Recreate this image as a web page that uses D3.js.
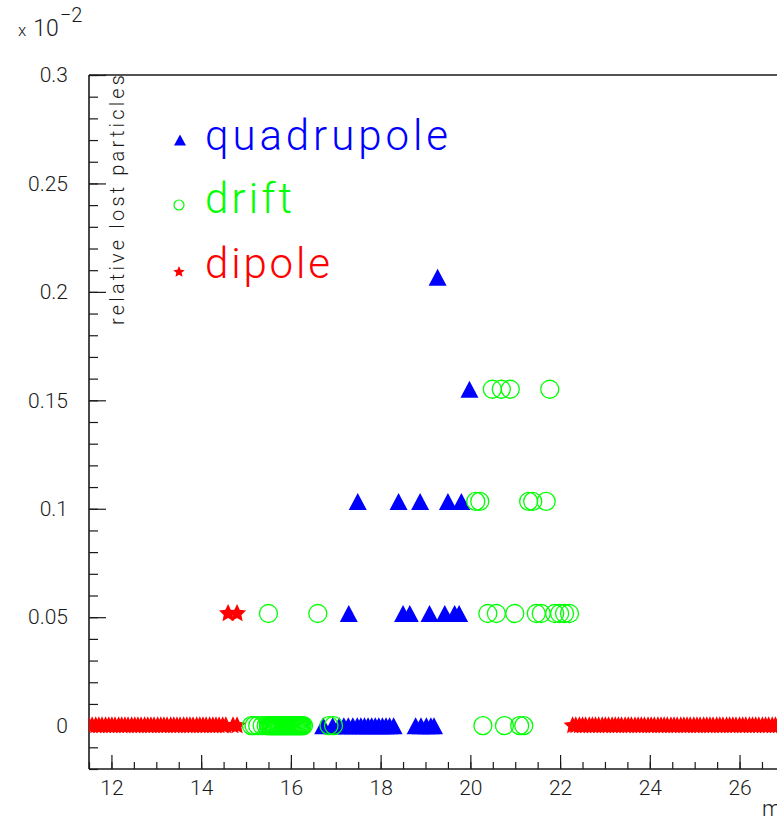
<!DOCTYPE html>
<html><head><meta charset="utf-8">
<script src="https://cdn.jsdelivr.net/npm/d3@7"></script>
<style>html,body{margin:0;padding:0;background:#fff;overflow:hidden}</style>
</head><body>
<svg id="chart" width="777" height="821"></svg>
<script>
// Loss levels (units of 1e-2) and positions along the beam line
const levels = [0, 0.0517, 0.1034, 0.1551, 0.2068];

// quadrupole losses: one x list per level index
const quadrupoleX = [
  [16.72, 16.93, 17.08, 17.18, 17.28, 17.38, 17.48, 17.56, 17.64, 17.72, 17.80, 17.88, 17.96, 18.04, 18.12, 18.20, 18.29, 18.78, 18.90, 19.02, 19.12, 19.19],
  [17.29, 18.50, 18.65, 19.09, 19.43, 19.65, 19.75],
  [17.49, 18.40, 18.88, 19.50, 19.80],
  [19.98],
  [19.27]
];

// drift losses
const driftX = [
  [15.12, 15.18, 15.26, 15.36, 15.45, 15.50, 15.525, 15.55, 15.575, 15.60, 15.625, 15.65, 15.675, 15.70, 15.725, 15.75, 15.775, 15.80, 15.825, 15.85, 15.875, 15.90, 15.925, 15.95, 15.975, 16.00, 16.025, 16.05, 16.075, 16.10, 16.125, 16.15, 16.175, 16.20, 16.225, 16.25, 16.28,
   16.85, 16.95, 20.28, 20.76, 21.10, 21.19],
  [15.50, 16.60, 20.39, 20.58, 20.99, 21.47, 21.58, 21.88, 21.99, 22.10, 22.21],
  [20.12, 20.21, 21.30, 21.39, 21.69],
  [20.49, 20.69, 20.89, 21.77],
  []
];

// dipole losses
const dipoleX = [
  [11.50, 11.57, 11.65, 11.72, 11.79, 11.87, 11.94, 12.01, 12.08, 12.16, 12.23, 12.30, 12.37, 12.45, 12.52, 12.59, 12.66, 12.74, 12.81, 12.88, 12.95, 13.03, 13.10, 13.17, 13.24, 13.32, 13.39, 13.46, 13.53, 13.61, 13.68, 13.75, 13.82, 13.90, 13.97, 14.04, 14.11, 14.19, 14.26, 14.33, 14.40, 14.48, 14.55, 14.71, 14.80,
   22.28, 22.35, 22.43, 22.50, 22.57, 22.65, 22.72, 22.79, 22.86, 22.94, 23.01, 23.08, 23.16, 23.23, 23.30, 23.37, 23.45, 23.52, 23.59, 23.67, 23.74, 23.81, 23.88, 23.96, 24.03, 24.10, 24.18, 24.25, 24.32, 24.39, 24.47, 24.54, 24.61, 24.69, 24.76, 24.83, 24.90, 24.98, 25.05, 25.12, 25.20, 25.27, 25.34, 25.41, 25.49, 25.56, 25.63, 25.71, 25.78, 25.85, 25.92, 26.00, 26.07, 26.14, 26.22, 26.29, 26.36, 26.43, 26.51, 26.58, 26.65, 26.73, 26.80, 26.87, 26.94, 27.02],
  [14.60, 14.80],
  [], [], []
];

const yTickLabels = ["0", "0.05", "0.1", "0.15", "0.2", "0.25", "0.3"];
const xTickLabels = ["12", "14", "16", "18", "20", "22", "24", "26"];
const legendNames = ["quadrupole", "drift", "dipole"];

const BLUE = "#0000ff", GREEN = "#00ff00", RED = "#ff0000", INK = "#1a1a1a";
const FONT = "Roboto, 'Liberation Sans', sans-serif";

const svg = d3.select("#chart");
const frame = {left: 89, top: 75, bottom: 769, right: 919};

const x = d3.scaleLinear().domain([11.5, 30]).range([frame.left, frame.right]);
const y = d3.scaleLinear().domain([-0.02, 0.3]).range([frame.bottom, frame.top]);

// flatten a per-level list into points
const toPoints = arr => arr.flatMap((xs, i) => xs.map(v => ({x: v, y: levels[i]})));

svg.append("defs").append("clipPath").attr("id", "plotClip")
  .append("rect").attr("x", frame.left).attr("y", frame.top)
  .attr("width", frame.right - frame.left).attr("height", frame.bottom - frame.top);

// frame
const fr = svg.append("g").attr("stroke", INK).attr("stroke-width", 1.6).attr("fill", "none");
fr.append("line").attr("x1", frame.left).attr("x2", frame.left).attr("y1", frame.top).attr("y2", frame.bottom);
fr.append("line").attr("x1", frame.left).attr("x2", frame.right).attr("y1", frame.top).attr("y2", frame.top);
fr.append("line").attr("x1", frame.left).attr("x2", frame.right).attr("y1", frame.bottom).attr("y2", frame.bottom);

// y axis: minor ticks, then major ticks with labels
svg.append("g").attr("transform", `translate(${frame.left},0)`)
  .call(d3.axisLeft(y).tickValues(d3.range(-0.02, 0.3001, 0.01)).tickSize(-9).tickFormat(""))
  .call(g => g.select(".domain").remove())
  .call(g => g.selectAll("line").attr("stroke", INK).attr("stroke-width", 1.2));

const yMajor = yTickLabels.map(Number);
svg.append("g").attr("transform", `translate(${frame.left},0)`)
  .call(d3.axisLeft(y).tickValues(yMajor).tickSize(-17).tickPadding(21)
        .tickFormat((d, i) => yTickLabels[i]))
  .call(g => g.select(".domain").remove())
  .call(g => g.selectAll("line").attr("stroke", INK).attr("stroke-width", 1.2))
  .call(g => g.selectAll("text").attr("font-family", FONT).attr("font-weight", 300)
        .attr("font-size", 21).attr("fill", INK));

// x axis
svg.append("g").attr("transform", `translate(0,${frame.bottom})`)
  .call(d3.axisBottom(x).tickValues(d3.range(11.5, 30.01, 0.5)).tickSize(-7).tickFormat(""))
  .call(g => g.select(".domain").remove())
  .call(g => g.selectAll("line").attr("stroke", INK).attr("stroke-width", 1.2));

const xMajor = xTickLabels.map(Number);
svg.append("g").attr("transform", `translate(0,${frame.bottom})`)
  .call(d3.axisBottom(x).tickValues(xMajor).tickSize(-14).tickFormat((d, i) => xTickLabels[i]))
  .call(g => g.select(".domain").remove())
  .call(g => g.selectAll("line").attr("stroke", INK).attr("stroke-width", 1.2))
  .call(g => g.selectAll("text").attr("y", 26).attr("dy", 0).attr("font-family", FONT)
        .attr("font-weight", 300).attr("font-size", 21).attr("fill", INK));
// major ticks beyond the last labelled value
svg.append("g").attr("transform", `translate(0,${frame.bottom})`)
  .call(d3.axisBottom(x).tickValues([28, 30]).tickSize(-14).tickFormat(""))
  .call(g => g.select(".domain").remove())
  .call(g => g.selectAll("line").attr("stroke", INK).attr("stroke-width", 1.2));

// exponent label
const expo = svg.append("text").attr("x", 18).attr("y", 36)
  .attr("font-family", FONT).attr("font-weight", 300).attr("fill", INK);
expo.append("tspan").attr("font-size", 17).text("x");
expo.append("tspan").attr("font-size", 23).attr("dx", 7).text("10");
expo.append("tspan").attr("font-size", 20).attr("dy", -14).attr("dx", 1).text("\u22122");

// axis titles
svg.append("text").attr("transform", `translate(124,${frame.top}) rotate(-90)`)
  .attr("text-anchor", "end").attr("font-family", FONT).attr("font-weight", 300)
  .attr("font-size", 20).attr("fill", INK)
  .attr("textLength", 250).attr("lengthAdjust", "spacing")
  .text("relative lost particles");

svg.append("text").attr("x", 762).attr("y", 816).attr("font-family", FONT)
  .attr("font-weight", 300).attr("font-size", 22).attr("fill", INK).text("m");

// marker shapes
const triPath = (w, h) => `M${-w / 2},${h / 2}L${w / 2},${h / 2}L0,${-h / 2}Z`;
const starPath = (R, r) => {
  const pts = d3.range(10).map(k => {
    const a = -Math.PI / 2 + k * Math.PI / 5, rad = k % 2 ? r : R;
    return [rad * Math.cos(a), rad * Math.sin(a)];
  });
  return "M" + pts.map(p => p.join(",")).join("L") + "Z";
};

const plot = svg.append("g").attr("clip-path", "url(#plotClip)");

plot.append("g").selectAll("path").data(toPoints(dipoleX)).join("path")
  .attr("transform", d => `translate(${x(d.x)},${y(d.y)})`)
  .attr("d", starPath(9.5, 4.6)).attr("fill", RED);

plot.append("g").selectAll("path").data(toPoints(quadrupoleX)).join("path")
  .attr("transform", d => `translate(${x(d.x)},${y(d.y)})`)
  .attr("d", triPath(18, 17)).attr("fill", BLUE);

plot.append("g").selectAll("circle").data(toPoints(driftX)).join("circle")
  .attr("cx", d => x(d.x)).attr("cy", d => y(d.y)).attr("r", 9)
  .attr("fill", "none").attr("stroke", GREEN).attr("stroke-width", 1.3);

// legend
const legend = svg.append("g");
const legendRows = [
  {name: legendNames[0], color: BLUE, my: 140, ty: 150, len: 243},
  {name: legendNames[1], color: GREEN, my: 205, ty: 213, len: 87},
  {name: legendNames[2], color: RED, my: 272, ty: 278, len: 125}
];
legend.append("path").attr("transform", `translate(180,${legendRows[0].my})`)
  .attr("d", triPath(12, 11)).attr("fill", BLUE);
legend.append("circle").attr("cx", 179).attr("cy", legendRows[1].my).attr("r", 5)
  .attr("fill", "none").attr("stroke", GREEN).attr("stroke-width", 1.2);
legend.append("path").attr("transform", `translate(179,${legendRows[2].my})`)
  .attr("d", starPath(6, 2.8)).attr("fill", RED);
legend.selectAll("text").data(legendRows).join("text")
  .attr("x", 205).attr("y", d => d.ty).attr("fill", d => d.color)
  .attr("font-family", FONT).attr("font-weight", 300).attr("font-size", 42)
  .attr("textLength", d => d.len).attr("lengthAdjust", "spacing")
  .text(d => d.name);
</script></body></html>
